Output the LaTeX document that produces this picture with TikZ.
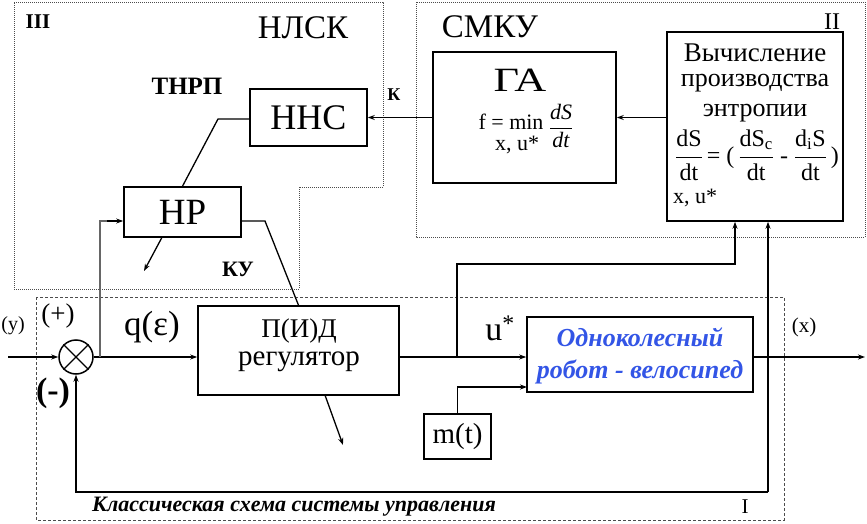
\documentclass[tikz,border=0pt]{standalone}
\usepackage{fontspec}
\setmainfont{Liberation Serif}
\usetikzlibrary{arrows.meta,calc}
\newcommand\fs[1]{\fontsize{#1}{#1}\selectfont}
\definecolor{robblue}{RGB}{51,85,230}
\begin{document}
\begin{tikzpicture}[x=1pt,y=-1pt,
  blk/.style={draw, line width=1.6pt, inner sep=0pt},
  lbl/.style={inner sep=0pt, anchor=center},
  conn/.style={line width=1.3pt},
  arr/.style={line width=1.5pt, -{Stealth[length=7pt,width=5pt]}},
  zone/.style={draw=black!70, line width=0.9pt, dash pattern=on 1pt off 1pt},
  zoneI/.style={draw=black!70, line width=0.9pt, dash pattern=on 3pt off 2pt},
]
\useasboundingbox[fill=white] (0,0) rectangle (867,524);
% zones
\draw[zone] (14,2) -- (383,2) -- (383,187) -- (299,187) -- (299,289) -- (14,289) -- cycle;
\draw[zone] (416,2) rectangle (865,237);
\draw[zoneI] (36,297) rectangle (784,520);
% blocks
\node[blk, minimum width=117pt, minimum height=57pt, font=\fs{36}] (nns) at (308.5,117.5) {ННС};
\node[blk, minimum width=117pt, minimum height=50pt, font=\fs{37}] (nr) at (182.5,212) {НР};
\node[blk, minimum width=183pt, minimum height=131pt] (ga) at (524.5,117.5) {};
\node[blk, minimum width=176pt, minimum height=189pt] (calc) at (755,126.5) {};
\node[blk, minimum width=201pt, minimum height=89pt] (pid) at (298.5,350.5) {};
\node[blk, minimum width=226pt, minimum height=75pt] (rob) at (640,354.5) {};
\node[blk, minimum width=67pt, minimum height=45pt, font=\fs{29}] (mt) at (457.5,436.5) {m(t)};
\node[draw, circle, line width=1.5pt, minimum size=34pt, inner sep=0pt] (sum) at (76,357) {};
\draw[line width=1.2pt] (sum.north west) -- (sum.south east) (sum.north east) -- (sum.south west);
% texts in blocks
\node[lbl, font=\fs{34}] (gat) at (520,80) {\scalebox{1.3}[1]{ГА}};
\node[lbl, font=\fs{22}] (gaf) at (511,122) {f = min};
\node[lbl, font=\fs{22}] (gax) at (517,145) {x, u*};
\node[lbl, font=\fs{22}] (gafr) at (561,126) {$\displaystyle\frac{\mbox{\itshape dS}}{\mbox{\itshape dt}}$};
\node[lbl, font=\fs{27}] (c1) at (755,53) {Вычисление};
\node[lbl, font=\fs{26}] (c2) at (755,83) {производства};
\node[lbl, font=\fs{26}] (c3) at (755,113) {энтропии};
\node[lbl, font=\fs{24}] (c4) at (757,155) {$\displaystyle\frac{\mbox{dS}}{\mbox{dt}}\mbox{\,= (\,}\frac{\mbox{dS\textsubscript{c}}}{\mbox{dt}}\mbox{ - }\frac{\mbox{d\textsubscript{i}S}}{\mbox{dt}}\mbox{\,)}$};
\node[lbl, font=\fs{22}] (c5) at (695,198) {x, u*};
\node[lbl, font=\fs{27}] (p1) at (299,331) {П(И)Д};
\node[lbl, font=\fs{29}] (p2) at (299,362) {регулятор};
\node[lbl, font=\fs{26}\bfseries\itshape, text=robblue] (r1) at (640,337) {Одноколесный};
\node[lbl, font=\fs{26}\bfseries\itshape, text=robblue] (r2) at (640,372) {робот - велосипед};
% labels
\node[lbl, font=\fs{21}\bfseries] (l3) at (38,22) {III};
\node[lbl, font=\fs{33}] (lnlsk) at (303,28) {НЛСК};
\node[lbl, font=\fs{25}\bfseries] (ltnrp) at (187,86) {ТНРП};
\node[lbl, font=\fs{18}\bfseries] (lk) at (394,95) {К};
\node[lbl, font=\fs{22}\bfseries] (lku) at (238,269) {КУ};
\node[lbl, font=\fs{33}] (lsmku) at (490,27) {СМКУ};
\node[lbl, font=\fs{24}] (l2) at (832,22) {II};
\node[lbl, font=\fs{20}] (ly) at (13,326) {(y)};
\node[lbl, font=\fs{27}] (lp) at (58,316) {(+)};
\node[lbl, font=\fs{34}\bfseries] (lm) at (53,393) {(-)};
\node[lbl, font=\fs{35}] (lq) at (152,327) {q(ε)};
\node[lbl, font=\fs{34}] (lu) at (500,328) {u\textsuperscript{*}};
\node[lbl, font=\fs{21}] (lx) at (804,327) {(x)};
\node[lbl, font=\fs{22}\bfseries\itshape] (lcl) at (294,507) {Классическая схема системы управления};
\node[lbl, font=\fs{21}] (l1) at (745,507) {I};
% connectors
\coordinate (yin) at (8,357);
\draw[arr] (yin) -- (sum.west);
\draw[arr] (sum.east) -- (sum.east -| pid.west);
\coordinate (b1) at (100,357);
\coordinate (b1t) at (100,221);
\draw[draw=black!60, line width=1.2pt] (b1) -- (b1t) -- ($(b1t)+(8,0)$);
\draw[arr, line width=1.3pt] ($(b1t)+(7,0)$) -- (b1t -| nr.west);
\draw[arr] (pid.east |- sum) -- (rob.west |- sum);
\coordinate (u1) at (457,357);
\coordinate (u2) at (457,264);
\coordinate (u3) at (735,264);
\draw[arr, line width=1.3pt] (u1) -- (u2) -- (u3) -- (u3 |- calc.south);
\coordinate (xout) at (865,357);
\draw[arr] (rob.east |- sum) -- (xout);
\coordinate (f1) at (768,492);
\draw[arr, line width=2pt] (f1) -- (f1 |- calc.south);
\draw[arr, line width=2pt] (f1) -| (sum.south);
\coordinate (mr) at (527,387);
\draw[arr, line width=1.3pt] (mt.north) |- (mr);
\coordinate (pa) at (343,445);
\draw[arr, line width=1.3pt] ($(pid.south west)!0.632!(pid.south east)$) -- (pa);
\coordinate (na) at (144,271);
\draw[arr, line width=1.3pt] ($(nr.south west)!0.325!(nr.south east)$) -- (na);
\coordinate (nr1) at (265,221);
\draw[conn] (nr1 -| nr.east) -- (nr1) -- (pid.north);
\coordinate (ns1) at (218,119);
\draw[conn] (ns1 -| nns.west) -- (ns1) -- (nr.north);
\draw[arr] (ga.west) -- (nns.east);
\draw[arr] (calc.west |- ga.east) -- (ga.east);
\end{tikzpicture}
\end{document}
